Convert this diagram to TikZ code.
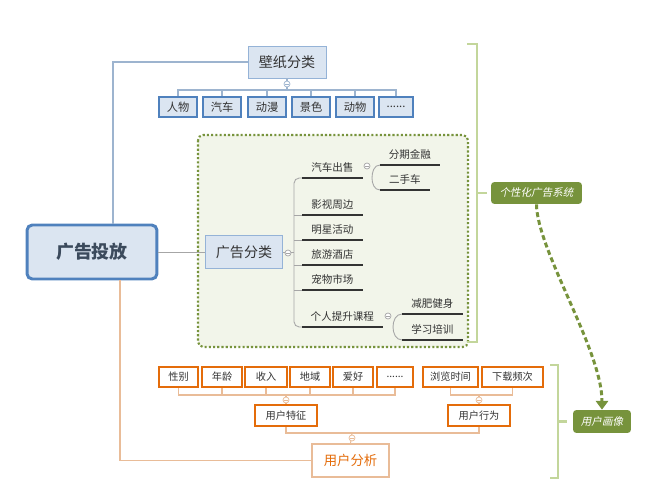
\documentclass[tikz,border=0pt]{standalone}
\usepackage{fontspec}
\setmainfont{Noto Sans CJK SC}[AutoFakeSlant=0.2]
\usetikzlibrary{arrows.meta}

\definecolor{boxblue}{HTML}{DBE5F1}
\definecolor{edgeblue}{HTML}{4F81BD}
\definecolor{paleblue}{HTML}{95B3D7}
\definecolor{lineblue}{HTML}{9DB4CF}
\definecolor{tagolive}{HTML}{77933C}
\definecolor{palegreen}{HTML}{C3D69B}
\definecolor{areagreen}{HTML}{F2F5EA}
\definecolor{userorange}{HTML}{E46C0A}
\definecolor{usertan}{HTML}{E9BC98}
\definecolor{darktext}{HTML}{333333}
\definecolor{roottext}{HTML}{3B4A5C}

\tikzset{
  rootbox/.style={draw=edgeblue, line width=1.7pt, fill=boxblue, rounded corners=3pt,
    minimum width=2.6cm, minimum height=1.08cm, text=roottext,
    font=\fontsize{10.2}{12}\selectfont\bfseries},
  mainbox/.style={draw=paleblue, line width=0.5pt, fill=boxblue,
    font=\fontsize{8}{10}\selectfont},
  tagbox/.style={draw=edgeblue, line width=1.2pt, fill=boxblue, inner sep=0pt,
    minimum width=0.76cm, minimum height=0.4cm, font=\fontsize{6.4}{8}\selectfont},
  userbox/.style={draw=userorange, line width=1.4pt, fill=white, inner sep=0pt,
    minimum height=0.4cm, font=\fontsize{5.8}{7}\selectfont},
  anabox/.style={draw=usertan, line width=0.6pt, fill=white, text=userorange,
    minimum width=1.54cm, minimum height=0.66cm, font=\fontsize{7.6}{9}\selectfont},
  sysbox/.style={fill=tagolive, rounded corners=2pt, text=white, inner sep=0pt,
    font=\fontsize{6}{7}\selectfont\itshape},
  topic/.style={anchor=south west, inner sep=0pt, minimum height=0.42cm,
    font=\fontsize{6}{7}\selectfont},
  fold/.style={circle, fill=white, line width=0.4pt, inner sep=0pt, minimum size=0.12cm,
    path picture={\draw[line width=0.3pt] ([xshift=0.7pt]path picture bounding box.west)
      -- ([xshift=-0.7pt]path picture bounding box.east);}},
  underline/.style={draw=darktext, line width=1.2pt},
  branch/.style={draw=black!35, line width=0.5pt},
  bluelink/.style={draw=lineblue, line width=0.6pt},
  tanlink/.style={draw=usertan, line width=0.6pt},
  bracket/.style={draw=palegreen, line width=1.7pt},
  dasharrow/.style={draw=tagolive, line width=1.7pt, dash pattern=on 2.8pt off 1.7pt,
    -{Triangle[length=5pt, width=7pt]}}
}

\begin{document}
\begin{tikzpicture}[x=0.02cm, y=-0.02cm, every node/.append style={text=darktext}]
	\useasboundingbox (0,0) rectangle (650,500);

	% dotted area behind the ad categories
	\path [draw=tagolive, fill=areagreen, line width=1.2pt, dash pattern=on 1.2pt off 1.2pt,
		rounded corners=3pt] (198,135) rectangle (468,347);

	\node[rootbox] (ad) at (92,252) {广告投放};

	% wallpaper categories
	\node[mainbox, minimum width=1.56cm, minimum height=0.64cm] (wall) at (287,62) {壁纸分类};
	\node[tagbox] (w1) at (178,107) {人物};
	\node[tagbox] (w2) at (222,107) {汽车};
	\node[tagbox] (w3) at (267,107) {动漫};
	\node[tagbox] (w4) at (311,107) {景色};
	\node[tagbox] (w5) at (355,107) {动物};
	\node[tagbox, minimum width=0.68cm] (w6) at (396,107) {......};
	\coordinate (wallbar) at (287,90);
	\path [draw, bluelink] (wall.south) -- (wallbar);
	\foreach \n in {1,...,6}
		\path [draw, bluelink] (wallbar) -| (w\n.north);
	\path [draw, bluelink] (wall.west) -| ([xshift=0.42cm]ad.north);

	% ad categories
	\node[mainbox, minimum width=1.54cm, minimum height=0.66cm] (cat) at (244,252) {广告分类};
	\coordinate (trunk) at (294,252);
	\path [draw, branch] (ad.east) -- (cat.west);
	\path [draw, branch] (cat.east) -- (trunk);
	\node[topic, minimum width=1.2cm] (sale) at (302,178) {汽车出售};
	\node[topic, minimum width=1.2cm] (film) at (302,215) {影视周边};
	\node[topic, minimum width=1.2cm] (star) at (302,240) {明星活动};
	\node[topic, minimum width=1.2cm] (hotel) at (302,265) {旅游酒店};
	\node[topic, minimum width=1.2cm] (pet) at (302,290) {宠物市场};
	\node[topic, minimum width=1.6cm] (course) at (302,327) {个人提升课程};
	\node[topic, minimum width=1.18cm] (loan) at (380,165) {分期金融};
	\node[topic, minimum width=0.98cm] (used) at (380,190) {二手车};
	\node[topic, minimum width=1.2cm] (fit) at (402,314) {减肥健身};
	\node[topic, minimum width=1.2cm] (study) at (402,340) {学习培训};
	\path [draw, branch, rounded corners=3pt] (sale.south west) -| (trunk) |- (course.south west);
	\foreach \n in {film,star,hotel,pet}
		\path [draw, branch] (trunk |- \n.south west) -- (\n.south west);
	\coordinate (salefork) at (372,178);
	\path [draw, branch] (salefork) to[out=90, in=180] (loan.south west);
	\path [draw, branch] (salefork) to[out=-90, in=180] (used.south west);
	\coordinate (coursefork) at (393,327);
	\path [draw, branch] (coursefork) to[out=90, in=180] (fit.south west);
	\path [draw, branch] (coursefork) to[out=-90, in=180] (study.south west);
	\foreach \n in {sale,film,star,hotel,pet,course,loan,used,fit,study}
		\path [draw, underline] (\n.south west) -- (\n.south east);

	% user analysis
	\node[userbox, minimum width=0.78cm] (u1) at (178.5,377) {性别};
	\node[userbox, minimum width=0.8cm] (u2) at (222,377) {年龄};
	\node[userbox, minimum width=0.84cm] (u3) at (266,377) {收入};
	\node[userbox, minimum width=0.8cm] (u4) at (310,377) {地域};
	\node[userbox, minimum width=0.8cm] (u5) at (353,377) {爱好};
	\node[userbox, minimum width=0.72cm] (u6) at (395,377) {......};
	\node[userbox, minimum width=1.1cm] (u7) at (450.5,377) {浏览时间};
	\node[userbox, minimum width=1.22cm] (u8) at (512.5,377) {下载频次};
	\node[userbox, minimum width=1.24cm, minimum height=0.42cm] (feat) at (286,415.5) {用户特征};
	\node[userbox, minimum width=1.24cm, minimum height=0.42cm] (act) at (479,415.5) {用户行为};
	\node[anabox] (ana) at (350.5,460.5) {用户分析};
	\coordinate (featbar) at (286,395);
	\coordinate (actbar) at (479,395);
	\coordinate (anabar) at (352,433);
	\foreach \n in {1,...,6}
		\path [draw, tanlink] (featbar) -| (u\n.south);
	\foreach \n in {7,8}
		\path [draw, tanlink] (actbar) -| (u\n.south);
	\path [draw, tanlink] (featbar) -- (feat.north);
	\path [draw, tanlink] (actbar) -- (act.north);
	\path [draw, tanlink] (feat.south) |- (anabar) -| (act.south);
	\path [draw, tanlink] (anabar) -- (ana.north);
	\path [draw, tanlink] ([xshift=0.56cm]ad.south) |- (ana.west);

	% fold markers
	\node[fold, draw=lineblue] (wallfold) at (287,84) {};
	\node[fold, draw=black!35] (catfold) at (288,253) {};
	\node[fold, draw=black!35] (salefold) at (367,166) {};
	\node[fold, draw=black!35] (coursefold) at (388,316) {};
	\node[fold, draw=usertan] (featfold) at (286,400) {};
	\node[fold, draw=usertan] (actfold) at (479,400) {};
	\node[fold, draw=usertan] (anafold) at (352,438) {};

	% summaries
	\node[sysbox, minimum width=1.82cm, minimum height=0.44cm] (sys) at (536.5,193) {个性化广告系统};
	\node[sysbox, minimum width=1.16cm, minimum height=0.46cm] (persona) at (602,421.5) {用户画像};
	\path [draw, bracket] (467,44) -- (477,44) -- (477,342) -- (467,342);
	\path [draw, bracket] (477,193) -- ([xshift=-0.08cm]sys.west);
	\path [draw, bracket] (550,365) -- (558,365) -- (558,478) -- (550,478);
	\path [draw, bracket] (558,421.5) -- ([xshift=-0.12cm]persona.west);
	\path [draw, dasharrow] (sys.south) .. controls (537,250) and (602,350) .. (persona.north);
\end{tikzpicture}
\end{document}
